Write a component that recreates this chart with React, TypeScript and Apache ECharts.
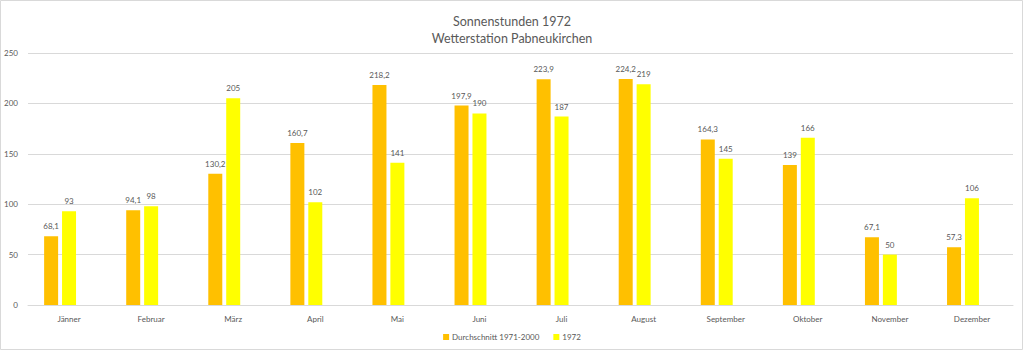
import React, { useEffect, useRef } from "react";
import * as echarts from "echarts";

const months = ["Jänner", "Februar", "März", "April", "Mai", "Juni", "Juli", "August", "September", "Oktober", "November", "Dezember"];
const average = [68.1, 94.1, 130.2, 160.7, 218.2, 197.9, 223.9, 224.2, 164.3, 139, 67.1, 57.3];
const year1972 = [93, 98, 205, 102, 141, 190, 187, 219, 145, 166, 50, 106];
const emptySeries = [null, null, null, null, null, null, null, null, null, null, null, null];
const titleLines = ["Sonnenstunden 1972", "Wetterstation Pabneukirchen"];
const seriesNames = ["Durchschnitt 1971-2000", "1972"];

const FONT = "Lato, 'Noto Sans', sans-serif";
const TXT = "#595959";

export default function App() {
  const ref = useRef<HTMLDivElement>(null);
  useEffect(() => {
    const chart = echarts.init(ref.current!, null, { renderer: "svg" });
    const label = {
      show: true,
      position: "top",
      distance: 6,
      fontFamily: FONT,
      fontSize: 8,
      color: TXT,
      formatter: (p: any) => String(p.value).replace(".", ","),
    };
    chart.setOption({
      animation: false,
      textStyle: { fontFamily: FONT },
      title: {
        text: titleLines.join("\n"),
        left: "center",
        top: 8,
        textStyle: { fontFamily: FONT, fontSize: 12.5, fontWeight: "normal", color: TXT, lineHeight: 17 },
      },
      graphic: [
        {
          type: "rect",
          shape: { x: 0.5, y: 0.5, width: 1022, height: 349 },
          style: { fill: "none", stroke: "#d9d9d9", lineWidth: 1 },
          silent: true,
        },
      ],
      legend: {
        bottom: 5,
        left: "center",
        itemWidth: 6,
        itemHeight: 6,
        itemGap: 14,
        icon: "rect",
        textStyle: { fontFamily: FONT, fontSize: 8, color: TXT, padding: [0, 0, 0, -2] },
        data: seriesNames,
      },
      grid: { left: 28, right: 11, top: 53, bottom: 46, containLabel: false },
      xAxis: {
        type: "category",
        data: months,
        axisLine: { lineStyle: { color: "#d9d9d9" } },
        axisTick: { show: false },
        axisLabel: { fontFamily: FONT, fontSize: 8, color: TXT, margin: 10 },
      },
      yAxis: {
        type: "value",
        min: 0,
        max: 250,
        interval: 50,
        axisLine: { show: false },
        axisTick: { show: false },
        splitLine: { lineStyle: { color: "#d9d9d9" } },
        axisLabel: { fontFamily: FONT, fontSize: 8, color: TXT, margin: 10 },
      },
      series: [
        {
          name: seriesNames[0],
          type: "bar",
          data: average,
          barWidth: 14,
          barGap: "28%",
          itemStyle: { color: "#FFC000" },
          label,
        },
        {
          name: seriesNames[1],
          type: "bar",
          data: year1972,
          barWidth: 14,
          itemStyle: { color: "#FFFF00" },
          label,
        },
        {
          name: "leer",
          type: "bar",
          data: emptySeries,
          barWidth: 14,
          itemStyle: { color: "#ffffff" },
          silent: true,
        },
      ],
    });
    return () => chart.dispose();
  }, []);
  return (
    <div
      ref={ref}
      style={{ position: "absolute", left: 0, top: 0, width: 1024, height: 351, background: "#fff" }}
    />
  );
}
